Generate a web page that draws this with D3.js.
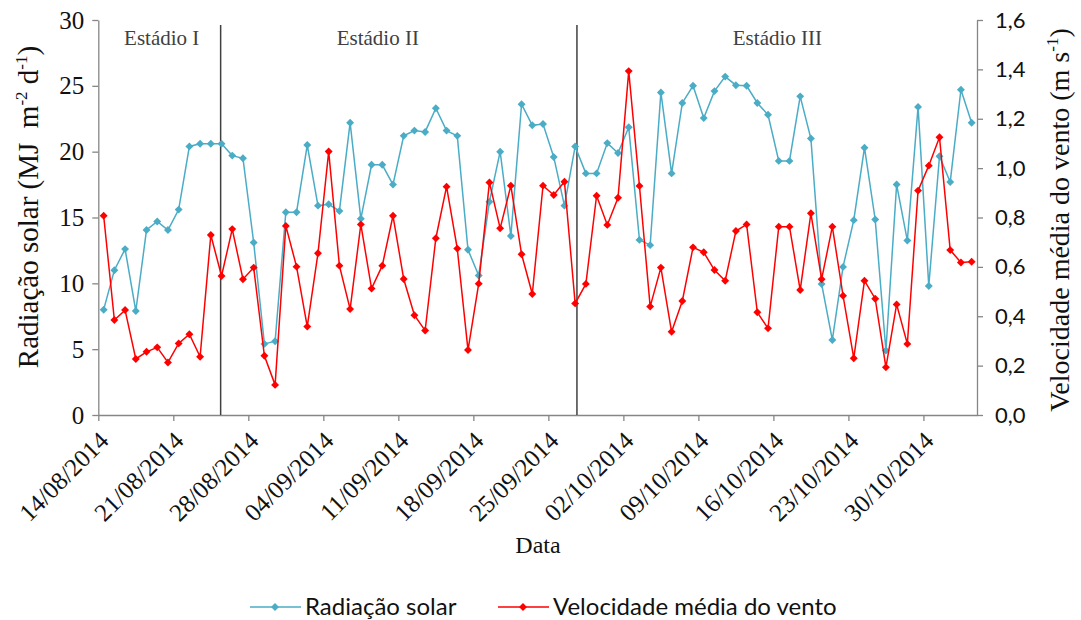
<!DOCTYPE html>
<html>
<head>
<meta charset="utf-8">
<script src="https://cdn.jsdelivr.net/npm/d3@7"></script>
<style>
  body { margin: 0; background: #fff; }
</style>
</head>
<body>
<svg id="chart" width="1081" height="620"></svg>
<script>

// daily series, starting 14/08/2014
const startDate = "2014-08-14";
const endDate = "2014-11-04";

const radiacao = [8.0, 11.0, 12.6, 7.9, 14.05, 14.7, 14.05, 15.6, 20.4, 20.6, 20.6, 20.6,
    19.7, 19.5, 13.1, 5.4, 5.6, 15.4, 15.4, 20.5, 15.9, 16.0,
    15.5, 22.2, 14.9, 19.0, 19.0, 17.5, 21.2, 21.6, 21.5, 23.3, 21.6, 21.2,
    12.55, 10.6, 16.2, 20.0, 13.6, 23.6, 22.0, 22.1, 19.6, 15.9, 20.4,
    18.35, 18.35, 20.65, 19.9, 21.85, 13.3, 12.9, 24.5, 18.35, 23.7, 25.0,
    22.55, 24.6, 25.7, 25.05, 25.0, 23.7, 22.8, 19.3, 19.3,
    24.2, 21.0, 9.95, 5.7, 11.25, 14.8, 20.3, 14.85, 4.9, 17.5, 13.25,
    23.4, 9.8, 19.65, 17.7, 24.7, 22.2];

const vento = [0.807, 0.385, 0.425, 0.227, 0.256, 0.274, 0.213, 0.290, 0.327, 0.236, 0.729, 0.563,
    0.753, 0.550, 0.597, 0.240, 0.122, 0.766, 0.601, 0.358, 0.655, 1.067,
    0.605, 0.429, 0.772, 0.512, 0.605, 0.807, 0.551, 0.404, 0.342, 0.716, 0.925, 0.674,
    0.263, 0.532, 0.942, 0.756, 0.929, 0.651, 0.490, 0.929, 0.891, 0.945, 0.452,
    0.531, 0.888, 0.770, 0.880, 1.393, 0.928, 0.439, 0.597, 0.337, 0.462, 0.679,
    0.659, 0.587, 0.544, 0.745, 0.772, 0.416, 0.351, 0.763, 0.763,
    0.506, 0.817, 0.550, 0.763, 0.483, 0.230, 0.544, 0.471, 0.193, 0.448, 0.288,
    0.909, 1.010, 1.125, 0.668, 0.618, 0.621];

const leftTicks = [0, 5, 10, 15, 20, 25, 30];
const rightTicks = [0, 0.2, 0.4, 0.6, 0.8, 1.0, 1.2, 1.4, 1.6];

// stage dividers and labels
const stageLines = ["2014-08-25T10:00Z", "2014-09-27T16:00Z"];
const stageNames = ["Estádio I", "Estádio II", "Estádio III"];
const stageLabelAt = ["2014-08-19T22:00Z", "2014-09-09T02:00Z", "2014-10-16T09:00Z"];

const seriesNames = ["Radiação solar", "Velocidade média do vento"];
const colors = ["#4bacc6", "#ff0000"];

const SERIF = '"Liberation Serif", "Times New Roman", serif';
const SANS = 'Lato, "Open Sans", sans-serif';

const svg = d3.select("#chart");
const margin = {left: 98.3, right: 977, top: 20, bottom: 415};

const t0 = new Date(startDate + "T00:00Z");
const t1 = new Date(endDate + "T00:00Z");
const days = radiacao.map((d, i) => d3.utcHour.offset(d3.utcDay.offset(t0, i), 12));

const xScale = d3.scaleUtc().domain([t0, t1]).range([margin.left, margin.right]);
const yLeft = d3.scaleLinear().domain([0, 30]).range([margin.bottom, margin.top]);
const yRight = d3.scaleLinear().domain([0, 1.6]).range([margin.bottom, margin.top]);

const axisColor = "#868686";

// axes
const xAxis = d3.axisBottom(xScale)
    .tickValues(d3.utcDay.range(t0, t1, 7))
    .tickFormat(d3.utcFormat("%d/%m/%Y"))
    .tickSize(6).tickSizeOuter(0);

const gx = svg.append("g")
    .attr("transform", `translate(0,${margin.bottom})`)
    .call(xAxis);

gx.selectAll("text")
    .style("font-family", SERIF)
    .style("font-size", "25px")
    .attr("fill", "#111")
    .attr("text-anchor", "end")
    .attr("transform", "translate(5,21) rotate(-45)")
    .attr("dy", "0.35em")
    .attr("y", 0);

const gl = svg.append("g")
    .attr("transform", `translate(${margin.left},0)`)
    .call(d3.axisLeft(yLeft).tickValues(leftTicks).tickSize(6).tickSizeOuter(0).tickPadding(8));
gl.selectAll("text").style("font-family", SERIF).style("font-size", "25px").attr("fill", "#111");

const gr = svg.append("g")
    .attr("transform", `translate(${margin.right},0)`)
    .call(d3.axisRight(yRight).tickValues(rightTicks).tickSize(6).tickSizeOuter(0).tickPadding(12)
        .tickFormat(d => d3.format(".1f")(d).replace(".", ",")));
gr.selectAll("text").style("font-family", SANS).style("font-size", "22px").attr("fill", "#111");

svg.selectAll(".domain, .tick line").attr("stroke", axisColor).attr("stroke-width", 1.3);

// stage dividers
svg.selectAll("line.stage")
    .data(stageLines)
    .enter()
    .append("line")
    .attr("class", "stage")
    .attr("x1", d => xScale(new Date(d)))
    .attr("x2", d => xScale(new Date(d)))
    .attr("y1", 25)
    .attr("y2", margin.bottom)
    .attr("stroke", "#404040")
    .attr("stroke-width", 1.5);

svg.selectAll("text.stage")
    .data(stageNames)
    .enter()
    .append("text")
    .attr("class", "stage")
    .style("font-family", SERIF)
    .attr("x", (d, i) => xScale(new Date(stageLabelAt[i])))
    .attr("y", 45)
    .attr("text-anchor", "middle")
    .attr("font-size", 21)
    .attr("fill", "#404040")
    .text(d => d);

// series
const diamond = d3.symbol().type(d3.symbolDiamond2).size(40);

function plot_series(values, yScale, color) {
    const line = d3.line()
        .x((d, i) => xScale(days[i]))
        .y(d => yScale(d));

    svg.append("path")
        .datum(values)
        .attr("fill", "none")
        .attr("stroke", color)
        .attr("stroke-width", 1.5)
        .attr("d", line);

    svg.append("g")
        .selectAll("path")
        .data(values)
        .enter()
        .append("path")
        .attr("d", diamond)
        .attr("transform", (d, i) => `translate(${xScale(days[i])},${yScale(d)})`)
        .attr("fill", color);
}

plot_series(radiacao, yLeft, colors[0]);
plot_series(vento, yRight, colors[1]);

// axis titles
const ltitle = svg.append("text")
    .style("font-family", SERIF)
    .attr("font-size", 29)
    .attr("fill", "#111")
    .attr("text-anchor", "middle")
    .attr("transform", "translate(38,207) rotate(-90)");
ltitle.append("tspan").text("Radiação solar (MJ\u00a0 m");
ltitle.append("tspan").attr("font-size", 17).attr("dy", -11).text("-2");
ltitle.append("tspan").attr("dy", 11).text(" d");
ltitle.append("tspan").attr("font-size", 17).attr("dy", -11).text("-1");
ltitle.append("tspan").attr("dy", 11).text(")");

const rtitle = svg.append("text")
    .style("font-family", SERIF)
    .attr("font-size", 28)
    .attr("fill", "#111")
    .attr("text-anchor", "middle")
    .attr("transform", "translate(1069,220) rotate(-90)");
rtitle.append("tspan").text("Velocidade média do vento (m s");
rtitle.append("tspan").attr("font-size", 17).attr("dy", -11).text("-1");
rtitle.append("tspan").attr("dy", 11).text(")");

svg.append("text")
    .style("font-family", SERIF)
    .attr("font-size", 24)
    .attr("fill", "#111")
    .attr("text-anchor", "middle")
    .attr("x", 538)
    .attr("y", 553)
    .text("Data");

// legend
const legendX = [250, 498];
const lg = svg.selectAll("g.legend")
    .data(seriesNames)
    .enter()
    .append("g")
    .attr("class", "legend")
    .attr("transform", (d, i) => `translate(${legendX[i]},607)`);

lg.append("line")
    .attr("x1", 0).attr("x2", 51)
    .attr("stroke", (d, i) => colors[i])
    .attr("stroke-width", 1.5);
lg.append("path")
    .attr("d", diamond)
    .attr("transform", "translate(25,0)")
    .attr("fill", (d, i) => colors[i]);
lg.append("text")
    .style("font-family", SANS)
    .attr("x", 55)
    .attr("dy", "0.35em")
    .attr("font-size", 24)
    .attr("fill", "#111")
    .text(d => d);

</script>
</body>
</html>
